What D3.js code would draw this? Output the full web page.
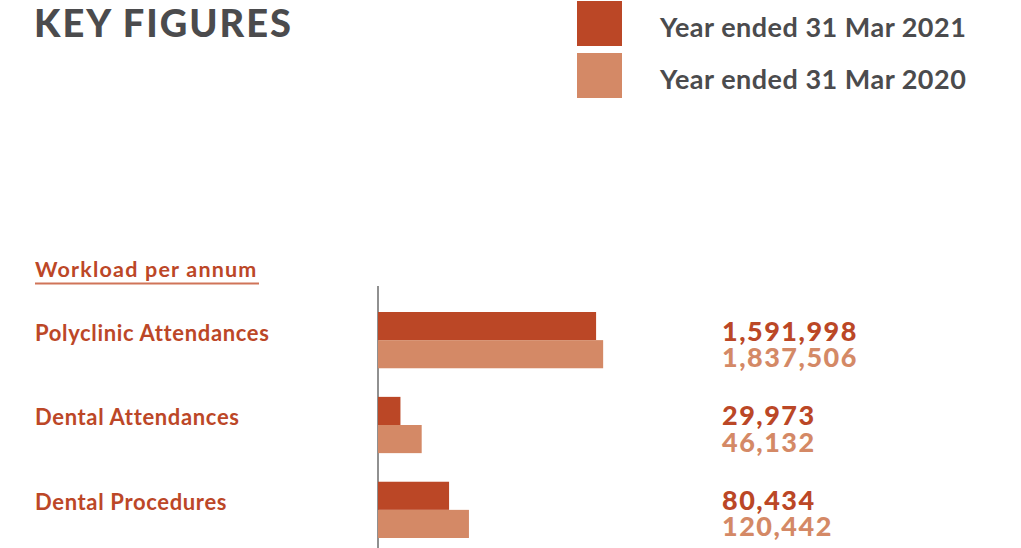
<!DOCTYPE html>
<html>
<head>
<meta charset="utf-8">
<script src="https://cdn.jsdelivr.net/npm/d3@7"></script>
<style>
  html, body { margin: 0; padding: 0; background: #ffffff; }
  svg { display: block; font-family: Lato, "Open Sans", sans-serif; }
</style>
</head>
<body>
<svg id="chart" width="1021" height="548"></svg>
<script>
// Workload figures, two financial years
const categories = ["Polyclinic Attendances", "Dental Attendances", "Dental Procedures"];
const seriesNames = ["Year ended 31 Mar 2021", "Year ended 31 Mar 2020"];
const values2021 = [1591998, 29973, 80434];
const values2020 = [1837506, 46132, 120442];
const seriesColors = ["#bb4726", "#d48966"];

const svg = d3.select("#chart");
const textGrey = "#4b4b4d";
const accent = "#bc4727";

const rows = categories.map((c, i) => ({
  category: c,
  values: [values2021[i], values2020[i]]
}));

// Bar length on a log scale so the small dental counts remain visible
const x = d3.scaleLog().domain([19000, 1900000]).range([0, 226.8]);
const x0 = 378;

const y = d3.scaleBand().domain(categories).range([312, 538]).paddingInner(0.337).paddingOuter(0);
const ySeries = d3.scaleBand().domain([0, 1]).range([0, y.bandwidth()]);
const fmt = d3.format(",");

// Title
svg.append("text")
  .attr("x", 34).attr("y", 37)
  .attr("fill", textGrey)
  .attr("font-size", 38).attr("font-weight", 900)
  .attr("letter-spacing", 2)
  .text("KEY FIGURES");

// Legend
const legend = svg.append("g");
seriesNames.forEach((name, i) => {
  const g = legend.append("g").attr("transform", `translate(577, ${1 + i * 52})`);
  g.append("rect").attr("width", 45).attr("height", 45).attr("fill", seriesColors[i]);
  g.append("text")
    .attr("x", 83).attr("y", 36)
    .attr("fill", textGrey)
    .attr("font-size", 27).attr("font-weight", 700)
    .attr("letter-spacing", 0.5)
    .text(name);
});

// Section heading with underline
svg.append("text")
  .attr("x", 35).attr("y", 277)
  .attr("fill", accent)
  .attr("font-size", 21.5).attr("font-weight", 700)
  .attr("letter-spacing", 1.2)
  .text("Workload per annum");
svg.append("line")
  .attr("x1", 35).attr("x2", 259)
  .attr("y1", 283.5).attr("y2", 283.5)
  .attr("stroke", "#d07458").attr("stroke-width", 2);

// Baseline
svg.append("line")
  .attr("x1", x0).attr("x2", x0)
  .attr("y1", 286).attr("y2", 548)
  .attr("stroke", "#6b6b6b").attr("stroke-width", 1.5);

const groups = svg.selectAll("g.row")
  .data(rows)
  .join("g")
  .attr("class", "row")
  .attr("transform", d => `translate(0, ${y(d.category)})`);

// Category labels
groups.append("text")
  .attr("x", 35)
  .attr("y", ySeries.bandwidth() + 0.5)
  .attr("fill", accent)
  .attr("font-size", 22).attr("font-weight", 700)
  .attr("letter-spacing", 0.65)
  .text(d => d.category);

// Bars
groups.selectAll("rect")
  .data(d => d.values.map((v, i) => ({ v, i })))
  .join("rect")
  .attr("x", x0)
  .attr("y", d => ySeries(d.i))
  .attr("width", d => x(d.v))
  .attr("height", ySeries.bandwidth())
  .attr("fill", d => seriesColors[d.i]);

// Value labels
groups.selectAll("text.val")
  .data(d => d.values.map((v, i) => ({ v, i })))
  .join("text")
  .attr("class", "val")
  .attr("x", 722)
  .attr("y", d => ySeries(d.i) + ySeries.bandwidth() - (d.i === 1 ? 1.5 : -0.5))
  .attr("fill", d => seriesColors[d.i])
  .attr("font-size", 27).attr("font-weight", 900)
  .attr("letter-spacing", 1.5)
  .text(d => fmt(d.v));
</script>
</body>
</html>
